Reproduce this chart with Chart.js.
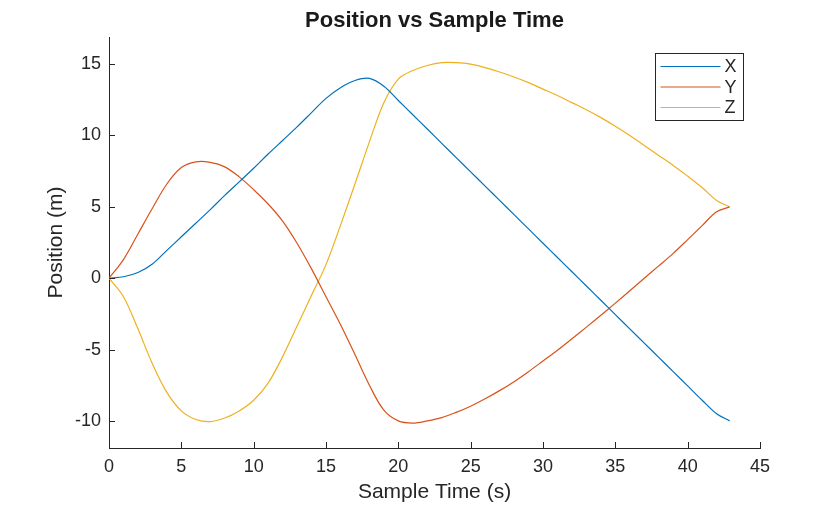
<!DOCTYPE html>
<html>
<head>
<meta charset="utf-8">
<script src="https://cdn.jsdelivr.net/npm/chart.js@4.4.0/dist/chart.umd.min.js"></script>
<style>
  html, body { margin: 0; padding: 0; background: #fff; }
</style>
</head>
<body>
<canvas id="myChart" width="840" height="506"></canvas>
<script>
  // values
  const times = [0, 1, 2, 3, 4, 5, 6, 7, 8, 9, 10, 11, 12, 13, 14, 15, 16, 17, 18, 19, 20,
                 21, 22, 23, 24, 25, 26, 27, 28, 29, 30, 31, 32, 33, 34, 35, 36, 37, 38, 39, 40,
                 41, 42, 42.9];
  const xPos = [0, 0.1, 0.4, 1.0, 1.95, 2.9, 3.85, 4.8, 5.8, 6.75, 7.7, 8.7, 9.65, 10.6, 11.6,
                12.6, 13.35, 13.85, 14.0, 13.45, 12.45, 11.45, 10.45, 9.45, 8.45, 7.45, 6.45,
                5.45, 4.45, 3.45, 2.45, 1.45, 0.45, -0.55, -1.55, -2.55, -3.55, -4.55, -5.55,
                -6.55, -7.55, -8.55, -9.5, -10.0];
  const yPos = [0, 1.3, 3.1, 4.9, 6.6, 7.75, 8.15, 8.12, 7.8, 7.1, 6.2, 5.2, 4.0, 2.45, 0.65,
                -1.3, -3.25, -5.35, -7.5, -9.25, -10.0, -10.15, -10.0, -9.77, -9.4, -8.97, -8.45,
                -7.88, -7.25, -6.55, -5.8, -5.05, -4.25, -3.43, -2.6, -1.75, -0.88, 0.0, 0.86,
                1.74, 2.7, 3.68, 4.65, 5.0];
  const zPos = [0, -1.3, -3.55, -6.0, -8.0, -9.3, -9.9, -10.05, -9.8, -9.3, -8.55, -7.35, -5.5,
                -3.35, -1.2, 0.95, 3.7, 6.6, 9.55, 12.3, 13.95, 14.55, 14.9, 15.1, 15.1, 15.0, 14.75,
                14.45, 14.1, 13.7, 13.25, 12.8, 12.3, 11.8, 11.25, 10.65, 10.0, 9.3, 8.6, 7.9,
                7.15, 6.35, 5.45, 5.0];
  const seriesNames = ['X', 'Y', 'Z'];
  const xTicks = [0, 5, 10, 15, 20, 25, 30, 35, 40, 45];
  const yTicks = [-10, -5, 0, 5, 10, 15];
  const titleText = 'Position vs Sample Time';

  const FONT = "'Liberation Sans', Arial, Helvetica, sans-serif";
  const INK = '#262626';

  function pts(vals) {
    return vals.map((v, i) => ({ x: times[i], y: v }));
  }

  // MATLAB style: title over the axes, ticks pointing inward, boxed legend
  const matlabBits = {
    id: 'matlabBits',
    afterDatasetsDraw(chart) {
      const { ctx, chartArea: a } = chart;
      const sx = chart.scales.x, sy = chart.scales.y;
      ctx.save();

      ctx.fillStyle = '#1a1a1a';
      ctx.font = 'bold 22px ' + FONT;
      ctx.textAlign = 'center';
      ctx.textBaseline = 'middle';
      ctx.fillText(titleText, (a.left + a.right) / 2, 21);

      ctx.strokeStyle = INK;
      ctx.lineWidth = 1;
      ctx.beginPath();
      sx.ticks.forEach(t => {
        const p = Math.round(sx.getPixelForValue(t.value)) + 0.5;
        ctx.moveTo(p, a.bottom);
        ctx.lineTo(p, a.bottom - 6);
      });
      sy.ticks.forEach(t => {
        const p = Math.round(sy.getPixelForValue(t.value)) + 0.5;
        ctx.moveTo(a.left, p);
        ctx.lineTo(a.left + 6, p);
      });
      ctx.stroke();

      // legend box
      const bx = Math.round(a.right - 105) + 0.5, by = Math.round(a.top + 16) + 0.5;
      const bw = 88, bh = 67;
      ctx.fillStyle = '#fff';
      ctx.fillRect(bx, by, bw, bh);
      ctx.strokeStyle = INK;
      ctx.strokeRect(bx, by, bw, bh);
      ctx.font = '18px ' + FONT;
      ctx.textAlign = 'left';
      chart.data.datasets.forEach((ds, i) => {
        const ly = by + 13 + i * 20.5;
        ctx.strokeStyle = ds.borderColor;
        ctx.beginPath();
        ctx.moveTo(bx + 5, ly);
        ctx.lineTo(bx + 65, ly);
        ctx.stroke();
        ctx.fillStyle = INK;
        ctx.fillText(ds.label, bx + 69, ly + 1);
      });
      ctx.restore();
    }
  };

  const ctx = document.getElementById('myChart').getContext('2d');
  const myChart = new Chart(ctx, {
    type: 'line',
    data: {
      datasets: [
        { label: seriesNames[0], data: pts(xPos), borderColor: '#0072BD' },
        { label: seriesNames[1], data: pts(yPos), borderColor: '#D95319' },
        { label: seriesNames[2], data: pts(zPos), borderColor: '#EDB120' }
      ]
    },
    options: {
      responsive: false,
      animation: false,
      devicePixelRatio: 1,
      layout: { padding: { top: 37, right: 80, bottom: 0, left: 0 } },
      elements: {
        point: { radius: 0 },
        line: { borderWidth: 1.2, tension: 0.35, fill: false }
      },
      plugins: {
        legend: { display: false },
        tooltip: { enabled: false },
        title: { display: false }
      },
      scales: {
        x: {
          type: 'linear',
          min: 0,
          max: 45,
          afterBuildTicks: s => { s.ticks = xTicks.map(v => ({ value: v })); },
          afterFit: s => { s.height = 58; },
          grid: { drawOnChartArea: false, drawTicks: false },
          border: { display: true, color: INK, width: 1 },
          ticks: { color: INK, padding: 8, maxRotation: 0, font: { family: FONT, size: 18 } },
          title: {
            display: true,
            text: 'Sample Time (s)',
            color: INK,
            font: { family: FONT, size: 21 },
            padding: { top: 0, bottom: 1 }
          }
        },
        y: {
          type: 'linear',
          min: -11.9,
          max: 16.9,
          afterBuildTicks: s => { s.ticks = yTicks.map(v => ({ value: v })); },
          afterFit: s => { s.width = 109; },
          grid: { drawOnChartArea: false, drawTicks: false },
          border: { display: true, color: INK, width: 1 },
          ticks: { color: INK, padding: 8, font: { family: FONT, size: 18 } },
          title: {
            display: true,
            text: 'Position (m)',
            color: INK,
            font: { family: FONT, size: 21 },
            padding: { top: 44, bottom: 0 }
          }
        }
      }
    },
    plugins: [matlabBits]
  });
</script>
</body>
</html>
